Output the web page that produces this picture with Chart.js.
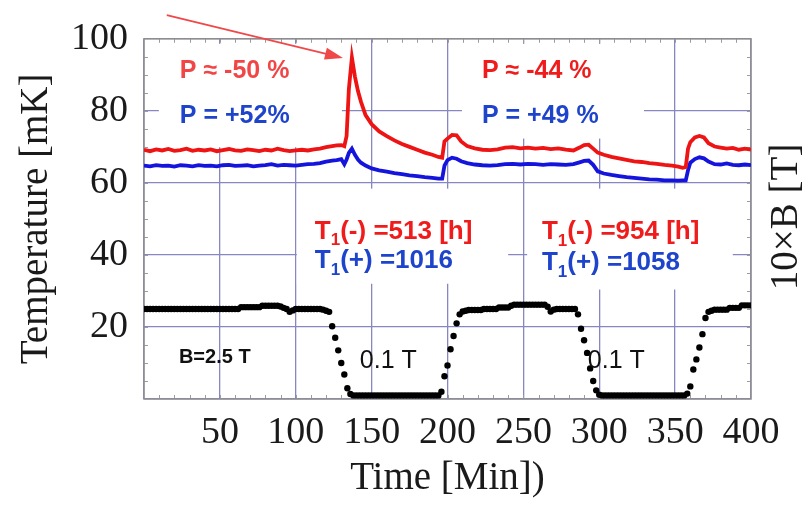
<!DOCTYPE html>
<html>
<head>
<meta charset="utf-8">
<script src="https://cdn.jsdelivr.net/npm/chart.js@4.4.1/dist/chart.umd.min.js"></script>
<style>
  body { margin: 0; background: #fff; }
  canvas { display: block; }
</style>
</head>
<body>
<canvas id="chart" width="808" height="507"></canvas>
<script>
// time axis of the two temperature traces [min]
const timeMin = [
    0, 4, 8, 12, 16, 20, 24, 28, 32, 36,
    40, 44, 48, 52, 56, 60, 64, 68, 72, 76,
    80, 84, 88, 92, 96, 100, 104, 108, 112, 116,
    120, 124, 127, 130, 132, 133.5, 135, 137, 139, 141,
    143, 146, 150, 155, 160, 165, 170, 175, 180, 185,
    190, 194, 196.5, 198, 200, 203, 206, 209, 213, 218,
    223, 228, 233, 238, 243, 248, 253, 258, 263, 268,
    273, 278, 283, 287, 290, 293, 296, 299, 303, 308,
    313, 318, 323, 328, 333, 338, 343, 348, 352, 355,
    357, 358.5, 360, 363, 366, 369, 372, 376, 380, 384,
    388, 392, 396, 400
];

// temperature [mK], negative polarisation (red)
const tempRed = [
    69.2, 68.8, 69.3, 69.0, 69.4, 68.9, 69.1, 69.5, 68.9, 69.2,
    69.0, 69.3, 68.8, 69.1, 69.4, 69.0, 68.9, 69.3, 69.1, 68.8,
    69.2, 69.0, 69.5, 69.1, 68.8, 69.0, 69.2, 69.0, 69.3, 69.5,
    69.9, 70.2, 70.4, 70.5, 70.2, 73.0, 86.0, 94.8, 89.5, 85.5,
    82.5, 78.8, 76.3, 74.3, 73.0, 71.8, 70.8, 70.0, 69.2, 68.4,
    67.8, 67.2, 67.0, 71.5, 72.3, 73.3, 73.2, 71.5, 70.2, 69.6,
    69.2, 69.1, 69.3, 69.8, 69.9, 69.6, 69.8, 69.5, 69.7, 69.4,
    69.6, 69.2, 69.0, 69.8, 70.5, 70.6, 69.5, 68.4, 67.8, 67.2,
    66.8, 66.4, 66.0, 65.8, 65.5, 65.3, 65.0, 64.8, 64.5, 64.2,
    64.4, 69.5, 71.3, 72.6, 73.0, 72.6, 71.0, 70.1, 69.8, 69.5,
    69.7, 69.2, 69.5, 69.2
];

// temperature [mK], positive polarisation (blue)
const tempBlue = [
    64.8, 64.6, 64.9, 64.7, 64.8, 64.5, 64.9, 64.8, 64.6, 64.9,
    64.7, 64.8, 64.6, 64.9, 65.0, 64.7, 64.8, 64.9, 64.6, 64.8,
    64.9, 65.2, 64.8, 65.0, 64.9, 64.8, 65.0, 65.2, 65.3, 65.5,
    65.9, 66.2, 66.3, 66.6, 65.2, 66.5, 68.3, 69.5, 67.8, 66.5,
    65.6, 64.8, 64.0, 63.5, 63.1, 62.7, 62.4, 62.1, 61.9, 61.6,
    61.4, 61.2, 61.2, 64.8, 66.3, 67.0, 66.7, 66.0, 65.5, 65.1,
    64.9, 64.8, 64.9, 65.2, 65.3, 65.1, 65.3, 65.2, 65.0, 65.2,
    65.1, 65.0, 65.2, 65.7, 66.1, 66.2, 65.0, 63.2, 62.6, 62.2,
    61.9, 61.6, 61.4, 61.2, 61.0, 60.9, 60.7, 60.7, 60.6, 60.7,
    60.7, 63.5, 65.6, 66.6, 67.1, 66.8, 65.9, 65.2, 65.1, 65.4,
    65.0, 64.9, 65.1, 64.9
];

// 10 x B [T], one reading every 2 min from t = 0
const fieldStep = 2;
const field10B = [
    25, 25, 25, 25, 25, 25, 25, 25, 25, 25,
    25, 25, 25, 25, 25, 25, 25, 25, 25, 25,
    25, 25, 25, 25, 25, 25, 25, 25, 25, 25,
    25, 25, 25.5, 25.5, 25.5, 25.5, 25.5, 25.5, 25.5, 25.9,
    25.9, 25.9, 25.9, 25.9, 25.9, 25.7, 25.3, 25, 24.2, 24.6,
    25, 25, 25, 25, 25, 25, 25, 25, 25, 24.8,
    24.5, 24.2, 20.2, 17, 13.5, 10, 6.8, 3, 1.4, 1,
    1, 1, 1, 1, 1, 1, 1, 1, 1, 1,
    1, 1, 1, 1, 1, 1, 1, 1, 1, 1,
    1, 1, 1, 1, 1, 1, 1, 1, 2, 6.3,
    9.3, 13.8, 17.5, 21, 23.5, 24.3, 24.5, 24.7, 24.7, 24.7,
    24.7, 24.7, 25, 25, 25, 25, 25, 25.4, 25.4, 25.4,
    25.4, 25.9, 26.2, 26.2, 26.2, 26.2, 26.2, 26.2, 26.2, 26.2,
    26.2, 26.2, 26.2, 25.6, 24.3, 24.8, 25, 25, 25, 25,
    25, 25, 25, 23.5, 19.5, 16.3, 12.8, 8.5, 5, 2.4,
    1.2, 1, 1, 1, 1, 1, 1, 1, 1, 1,
    1, 1, 1, 1, 1, 1, 1, 1, 1, 1,
    1, 1, 1, 1, 1, 1, 1, 1, 1, 1.5,
    3.5, 8.2, 11, 14.3, 18, 22.5, 24.2, 24.5, 24.8, 24.8,
    24.8, 24.8, 24.8, 25.3, 25.3, 25.3, 25.3, 26, 26, 26,
    26
];

const xTicks = [50, 100, 150, 200, 250, 300, 350, 400];
const yTicks = [20, 40, 60, 80, 100];

const RED   = '#ee1414';
const BLUE  = '#1414dc';
const TRED  = '#f01c1c';
const TBLUE = '#1e44cc';
const GRID  = '#8686c0';
const SERIF = "'Liberation Serif', 'Times New Roman', serif";
const SANS  = "'Liberation Sans', Arial, sans-serif";

const redPts  = timeMin.map((t, i) => ({ x: t, y: tempRed[i] }));
const bluePts = timeMin.map((t, i) => ({ x: t, y: tempBlue[i] }));
const bPts    = field10B.map((b, i) => ({ x: i * fieldStep, y: b }));

// white label boxes: [t0, t1, top, bottom] in axis units
const boxes = [
    [9.8, 130.4, 98.6, 69.9],
    [209.5, 329.5, 98.6, 72.3],
    [100.7, 240, 58.4, 32],
    [252.5, 388, 58.4, 30.4]
];

// labels: position in axis units (left edge, baseline)
const notes = [
    { t: 23.6,  v: 89.1, c: '#f24646', f: 'bold 25px', parts: [['P ≈ -50 %']] },
    { t: 23.6,  v: 76.5, c: TBLUE,     f: 'bold 25px', parts: [['P = +52%']] },
    { t: 222.7, v: 89.1, c: TRED,      f: 'bold 25px', parts: [['P ≈ -44 %']] },
    { t: 222.7, v: 76.5, c: TBLUE,     f: 'bold 25px', parts: [['P = +49 %']] },
    { t: 112.6, v: 44.5, c: TRED,      f: 'bold 26px', parts: [['T'], ['1', 1], ['(-) =513 [h]']] },
    { t: 112.6, v: 36.3, c: TBLUE,     f: 'bold 26px', parts: [['T'], ['1', 1], ['(+) =1016']] },
    { t: 262.2, v: 44.3, c: TRED,      f: 'bold 26px', parts: [['T'], ['1', 1], ['(-) =954 [h]']] },
    { t: 262.2, v: 35.7, c: TBLUE,     f: 'bold 26px', parts: [['T'], ['1', 1], ['(+) =1058']] },
    { t: 23,    v: 9.9,  c: '#111',    f: 'bold 20px', parts: [['B=2.5 T']] },
    { t: 142.2, v: 8.5,  c: '#111',    f: '25px',      parts: [['0.1 T']] },
    { t: 292.5, v: 8.5,  c: '#111',    f: '25px',      parts: [['0.1 T']] }
];

const decor = {
    id: 'decor',
    beforeDatasetsDraw(chart) {
        const { ctx, chartArea: a, scales: { x, y } } = chart;
        ctx.save();
        ctx.fillStyle = '#fff';
        boxes.forEach(b => {
            const x0 = x.getPixelForValue(b[0]), x1 = x.getPixelForValue(b[1]);
            const y0 = y.getPixelForValue(b[2]), y1 = y.getPixelForValue(b[3]);
            ctx.fillRect(x0, y0, x1 - x0, y1 - y0);
        });
        // inward minor ticks on all four sides
        ctx.strokeStyle = '#9c9c9c';
        ctx.lineWidth = 1;
        ctx.beginPath();
        for (let t = 10; t < 400; t += 10) {
            const px = Math.round(x.getPixelForValue(t)) + 0.5;
            ctx.moveTo(px, a.top); ctx.lineTo(px, a.top + 4);
            ctx.moveTo(px, a.bottom); ctx.lineTo(px, a.bottom - 4);
        }
        for (let v = 5; v < 100; v += 5) {
            const py = Math.round(y.getPixelForValue(v)) + 0.5;
            ctx.moveTo(a.left, py); ctx.lineTo(a.left + 4, py);
            ctx.moveTo(a.right, py); ctx.lineTo(a.right - 4, py);
        }
        ctx.stroke();
        ctx.strokeStyle = '#8e8e8e';
        ctx.lineWidth = 1.5;
        ctx.strokeRect(a.left, a.top, a.right - a.left, a.bottom - a.top);
        ctx.restore();
    },
    afterDatasetsDraw(chart) {
        const { ctx, chartArea: a, scales: { x, y } } = chart;
        ctx.save();
        ctx.textBaseline = 'alphabetic';
        ctx.textAlign = 'left';
        notes.forEach(n => {
            let px = x.getPixelForValue(n.t);
            const py = y.getPixelForValue(n.v);
            const size = parseInt(n.f.match(/(\d+)px/)[1], 10);
            const bold = n.f.startsWith('bold') ? 'bold ' : '';
            ctx.fillStyle = n.c;
            n.parts.forEach(([s, sub]) => {
                ctx.font = sub ? `${bold}${Math.round(size * 0.65)}px ${SANS}` : `${bold}${size}px ${SANS}`;
                ctx.fillText(s, px, sub ? py + size * 0.25 : py);
                px += ctx.measureText(s).width;
            });
        });

        // right-hand axis title, read bottom to top
        ctx.font = `39px ${SERIF}`;
        ctx.fillStyle = '#1a1a1a';
        ctx.textAlign = 'center';
        ctx.textBaseline = 'middle';
        ctx.translate(a.right + 36, (a.top + a.bottom) / 2 - 2);
        ctx.rotate(-Math.PI / 2);
        ctx.fillText('10×B [T]', 0, 0);
        ctx.restore();
    },
    afterDraw(chart) {
        const { ctx, scales: { x, y } } = chart;
        const x0 = x.getPixelForValue(15), y0 = y.getPixelForValue(106.6);
        const x1 = x.getPixelForValue(131.1), y1 = y.getPixelForValue(94.7);
        const ang = Math.atan2(y1 - y0, x1 - x0);
        ctx.save();
        ctx.strokeStyle = '#f04848';
        ctx.fillStyle = '#f04848';
        ctx.lineWidth = 1.8;
        ctx.beginPath();
        ctx.moveTo(x0, y0);
        ctx.lineTo(x1 - 14 * Math.cos(ang), y1 - 14 * Math.sin(ang));
        ctx.stroke();
        ctx.beginPath();
        ctx.moveTo(x1, y1);
        ctx.lineTo(x1 - 18 * Math.cos(ang) + 6 * Math.sin(ang), y1 - 18 * Math.sin(ang) - 6 * Math.cos(ang));
        ctx.lineTo(x1 - 18 * Math.cos(ang) - 6 * Math.sin(ang), y1 - 18 * Math.sin(ang) + 6 * Math.cos(ang));
        ctx.closePath();
        ctx.fill();
        ctx.restore();
    }
};

new Chart(document.getElementById('chart'), {
    type: 'line',
    data: {
        datasets: [
            {
                label: '10×B',
                data: bPts,
                showLine: false,
                pointRadius: 3.2,
                pointBackgroundColor: '#000',
                pointBorderWidth: 0
            },
            {
                label: 'P-',
                data: redPts,
                borderColor: RED,
                borderWidth: 3.8,
                pointRadius: 0,
                tension: 0
            },
            {
                label: 'P+',
                data: bluePts,
                borderColor: BLUE,
                borderWidth: 3.8,
                pointRadius: 0,
                tension: 0
            }
        ]
    },
    options: {
        responsive: false,
        animation: false,
        layout: { padding: { top: 24, right: 57, left: 0, bottom: 0 } },
        plugins: { legend: { display: false }, tooltip: { enabled: false } },
        scales: {
            x: {
                type: 'linear',
                min: 0, max: 400,
                afterFit(s) { s.height = 108; },
                afterBuildTicks(s) { s.ticks = [0].concat(xTicks).map(v => ({ value: v })); },
                ticks: {
                    callback: v => (xTicks.includes(v) ? String(v) : ''),
                    autoSkip: false, maxRotation: 0,
                    padding: 11,
                    color: '#1a1a1a',
                    font: { family: SERIF, size: 38 }
                },
                grid: { color: GRID, lineWidth: 1.3, drawTicks: false },
                border: { display: false },
                title: {
                    display: true,
                    text: 'Time [Min])',
                    color: '#1a1a1a',
                    font: { family: SERIF, size: 39, lineHeight: 1 },
                    padding: { top: 0, bottom: 9 }
                }
            },
            y: {
                min: 0, max: 100,
                afterFit(s) { s.width = 144; },
                afterBuildTicks(s) { s.ticks = [0].concat(yTicks).map(v => ({ value: v })); },
                ticks: {
                    callback: v => (yTicks.includes(v) ? String(v) : ''),
                    padding: 16,
                    color: '#1a1a1a',
                    font: { family: SERIF, size: 38 }
                },
                grid: { color: GRID, lineWidth: 1.3, drawTicks: false },
                border: { display: false },
                title: {
                    display: true,
                    text: 'Temperature [mK]',
                    color: '#1a1a1a',
                    font: { family: SERIF, size: 39, lineHeight: 1 },
                    padding: { top: 17, bottom: 0 }
                }
            }
        }
    },
    plugins: [decor]
});
</script>
</body>
</html>
